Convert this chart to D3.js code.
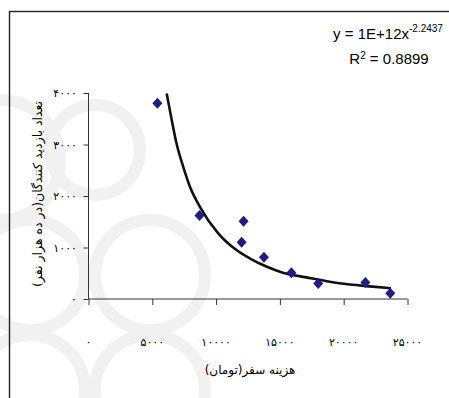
<!DOCTYPE html>
<html>
<head>
<meta charset="utf-8">
<script src="https://cdn.jsdelivr.net/npm/d3@7"></script>
<style>
  body { margin: 0; background: #fff; }
  svg { display: block; }
</style>
</head>
<body>
<div id="chart"></div>
<script>
// observed points: travel cost (toman) and visitors (per ten thousand)
var costs = [5400, 8700, 12150, 12000, 13750, 15900, 18000, 21700, 23650];
var visitors = [3800, 1620, 1510, 1100, 810, 510, 300, 320, 110];

// power trendline as drawn on the picture
var trendX = [6125, 6520, 6900, 7420, 7950, 8730, 10150, 11600, 12630, 13940, 15230, 17060, 19660, 22270, 23700];
var trendY = [3990, 3480, 3020, 2570, 2180, 1790, 1280, 950, 790, 630, 510, 420, 305, 240, 208];

var xTicks = [0, 5000, 10000, 15000, 20000, 25000];
var yTicks = [0, 1000, 2000, 3000, 4000];

var xTitle = "هزینه سفر(تومان)";
var yTitle = "تعداد بازدید کنندگان(در ده هزار نفر)";
var equation = "y = 1E+12x";
var exponent = "-2.2437";
var rSquared = "0.8899";

(function () {

  var width = 449;
  var height = 398;

  function persian(n) {
    return String(n).replace(/[0-9]/g, function (c) {
      return "۰۱۲۳۴۵۶۷۸۹"[+c];
    });
  }

  var svg = d3.select("#chart")
    .append("svg")
    .attr("width", width)
    .attr("height", height);

  // faint watermark of the page behind the chart
  var mark = svg.append("g")
    .attr("fill", "none")
    .attr("stroke", "#f1f1f1")
    .attr("stroke-width", 12);
  [[30, 275, 55], [150, 275, 55], [30, 390, 55], [150, 390, 55], [0, 160, 60], [95, 150, 45]].forEach(function (c) {
    mark.append("circle").attr("cx", c[0]).attr("cy", c[1]).attr("r", c[2]);
  });

  // chart frame
  svg.append("rect")
    .attr("x", 9.5)
    .attr("y", 11.5)
    .attr("width", 470)
    .attr("height", 420)
    .attr("fill", "none")
    .attr("stroke", "#222")
    .attr("stroke-width", 1.4);

  var x = d3.scaleLinear().domain([0, 25000]).range([88.5, 407.5]);
  var y = d3.scaleLinear().domain([0, 4000]).range([299, 93]);

  // axes
  var xAxis = svg.append("g")
    .attr("transform", "translate(0,299)")
    .call(d3.axisBottom(x).tickValues(xTicks).tickSize(6).tickFormat(""));
  var yAxis = svg.append("g")
    .attr("transform", "translate(88.5,0)")
    .call(d3.axisLeft(y).tickValues(yTicks).tickSize(5).tickFormat(""));

  svg.selectAll(".domain").attr("stroke", "#333");
  svg.selectAll(".tick line").attr("stroke", "#333");
  yAxis.select(".domain").attr("d", "M0," + y(4000) + "V" + y(0));
  xAxis.select(".domain").attr("d", "M" + x(0) + ",0H" + x(25000));

  // tick labels (Persian digits)
  svg.append("g")
    .selectAll("text")
    .data(xTicks)
    .enter()
      .append("text")
      .attr("x", function (d) { return x(d); })
      .attr("y", 346)
      .attr("text-anchor", "middle")
      .attr("font-family", "DejaVu Sans")
      .attr("font-size", 11)
      .text(function (d) { return persian(d); });

  svg.append("g")
    .selectAll("text")
    .data(yTicks)
    .enter()
      .append("text")
      .attr("x", 77)
      .attr("y", function (d) { return y(d) + 4; })
      .attr("text-anchor", "end")
      .attr("font-family", "DejaVu Sans")
      .attr("font-size", 11)
      .text(function (d) { return persian(d); });

  // axis titles
  svg.append("text")
    .attr("x", 250)
    .attr("y", 374)
    .attr("text-anchor", "middle")
    .attr("font-family", "DejaVu Sans")
    .attr("font-size", 12)
    .text(xTitle);

  svg.append("text")
    .attr("transform", "translate(42,194) rotate(-90)")
    .attr("text-anchor", "middle")
    .attr("font-family", "DejaVu Sans")
    .attr("font-size", 12.5)
    .text(yTitle);

  // trendline
  var trend = trendX.map(function (d, i) { return [d, trendY[i]]; });
  svg.append("path")
    .datum(trend)
    .attr("fill", "none")
    .attr("stroke", "#111")
    .attr("stroke-width", 2.6)
    .attr("d", d3.line()
      .x(function (d) { return x(d[0]); })
      .y(function (d) { return y(d[1]); })
      .curve(d3.curveMonotoneX));

  // diamonds
  svg.append("g")
    .selectAll("path")
    .data(costs)
    .enter()
      .append("path")
      .attr("fill", "#1c1c8a")
      .attr("transform", function (d, i) {
        return "translate(" + x(d) + "," + y(visitors[i]) + ")";
      })
      .attr("d", "M0,-5.5L5,0L0,5.5L-5,0Z");

  // equation label
  var eq = svg.append("text")
    .attr("x", 388)
    .attr("y", 39)
    .attr("text-anchor", "middle")
    .attr("font-family", "Liberation Sans")
    .attr("font-size", 15);
  eq.append("tspan").text(equation);
  eq.append("tspan").attr("dy", -7).attr("font-size", 10).text(exponent);

  var r2 = svg.append("text")
    .attr("x", 389)
    .attr("y", 64)
    .attr("text-anchor", "middle")
    .attr("font-family", "Liberation Sans")
    .attr("font-size", 15);
  r2.append("tspan").text("R");
  r2.append("tspan").attr("dy", -5).attr("font-size", 10).text("2");
  r2.append("tspan").attr("dy", 5).text(" = " + rSquared);

})();
</script>
</body>
</html>
